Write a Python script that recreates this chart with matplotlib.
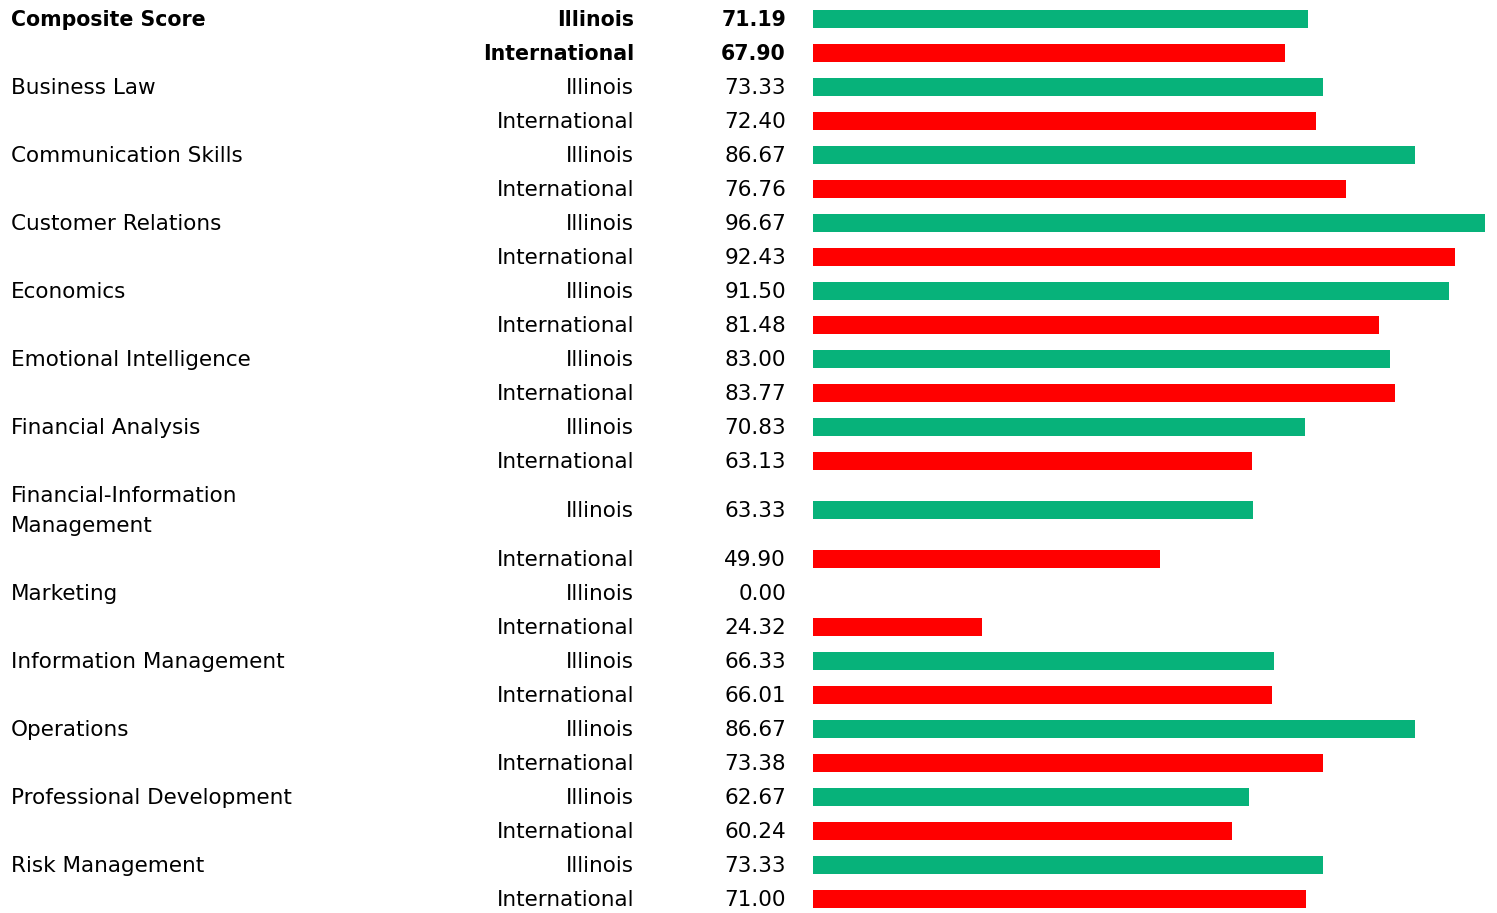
import matplotlib.pyplot as plt
import matplotlib.transforms as mtransforms

plt.rcParams['font.family'] = ['DejaVu Sans']

categories = ["Composite Score", "Business Law", "Communication Skills", "Customer Relations",
              "Economics", "Emotional Intelligence", "Financial Analysis",
              "Financial-Information\nManagement", "Marketing", "Information Management",
              "Operations", "Professional Development", "Risk Management"]
groups = ["Illinois", "International"]
illinois = [71.19, 73.33, 86.67, 96.67, 91.50, 83.00, 70.83, 63.33, 0.00, 66.33, 86.67, 62.67, 73.33]
international = [67.90, 72.40, 76.76, 92.43, 81.48, 83.77, 63.13, 49.90, 24.32, 66.01, 73.38, 60.24, 71.00]
colors = {"Illinois": "#07B27A", "International": "#FF0000"}

W, H = 1497, 913
fig = plt.figure(figsize=(W / 100, H / 100), dpi=100)
x0 = 813
px_per_unit = 6.95
ax = fig.add_axes([x0 / W, 0, 1 - x0 / W, 1])
ax.set_xlim(0, (W - x0) / px_per_unit)
ax.set_ylim(H, 0)
ax.axis("off")
fig_tr = mtransforms.blended_transform_factory(fig.transFigure, ax.transData)

# row layout in pixels (two-line label gets a taller row)
y = 2
for i, cat in enumerate(categories):
    bold = "bold" if i == 0 else "normal"
    fs = 14.8 if i == 0 else 15.5
    for j, g in enumerate(groups):
        h = 64 if ("\n" in cat and j == 0) else 34
        yc = y + h / 2
        val = illinois[i] if j == 0 else international[i]
        if val > 0:
            ax.barh(yc, val, height=18, color=colors[g], linewidth=0)
        if j == 0:
            ax.text(11 / W, yc + 1, cat, transform=fig_tr, ha="left", va="center",
                    fontsize=fs, fontweight=bold, linespacing=1.6)
        ax.text(634 / W, yc + 1, g, transform=fig_tr, ha="right", va="center",
                fontsize=fs, fontweight=bold)
        ax.text(786 / W, yc + 1, f"{val:.2f}", transform=fig_tr, ha="right", va="center",
                fontsize=fs, fontweight=bold)
        y += h

plt.savefig("out.png", dpi=100)
